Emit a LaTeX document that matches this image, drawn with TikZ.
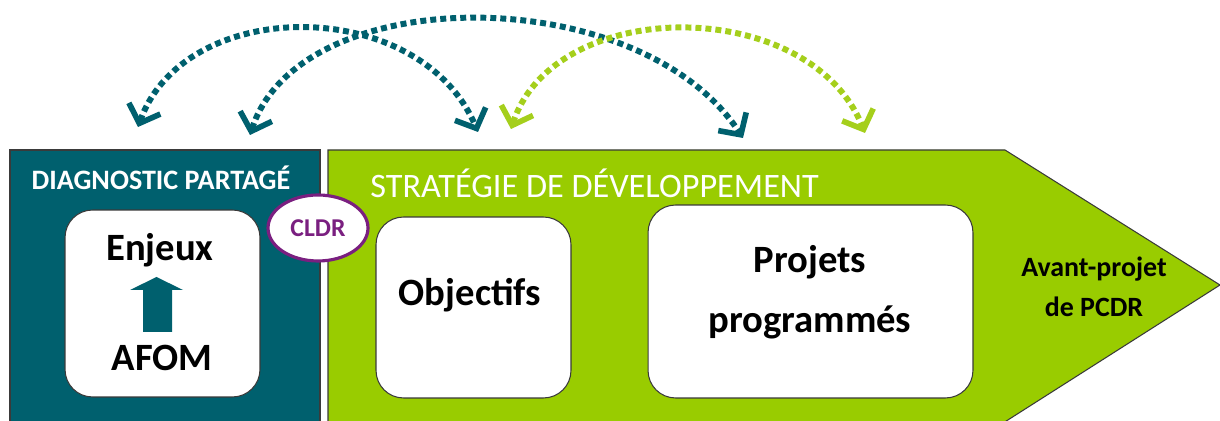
\documentclass[tikz,border=0pt]{standalone}
\usepackage{fontspec}
\setmainfont{Carlito}
\usetikzlibrary{arrows.meta,shapes.geometric}
\definecolor{dteal}{HTML}{00606E}
\definecolor{lgreen}{HTML}{99CC00}
\definecolor{agreen}{HTML}{A5CF1C}
\definecolor{cpurple}{HTML}{7A1F80}
\definecolor{edge}{HTML}{3A3A3A}
\begin{document}
\begin{tikzpicture}[x=0.02cm,y=-0.02cm,
  panel/.style={draw=edge,line width=0.6pt},
  wbox/.style={draw=edge,fill=white,line width=0.6pt,rounded corners=0.55cm,inner sep=0pt},
  bigtext/.style={font=\fontsize{22}{34}\selectfont\bfseries,align=center,inner sep=0pt},
  dotarrow/.style={line width=3.4pt,dash pattern=on 3.4pt off 2.3pt,
    {Straight Barb[length=9pt,width=19pt,line width=3.2pt]}-{Straight Barb[length=9pt,width=19pt,line width=3.2pt]}},
]
\useasboundingbox (0,0) rectangle (1220,421);
\begin{scope}
\clip (0,0) rectangle (1220,421);
\draw[panel,fill=dteal] (10,150) rectangle (320,440);
\draw[panel,fill=lgreen] (328,440) -- (328,150) -- (1005,150) -- (1220,285) -- (1000,425) -- (1000,440) -- cycle;
\end{scope}

% titles
\node[text=white,font=\fontsize{16}{18}\selectfont\bfseries,inner sep=0pt] (tdiag) at (161,178) {DIAGNOSTIC PARTAGÉ};
\node[text=white,font=\fontsize{19.5}{22}\selectfont,anchor=west,inner sep=0pt] (tstrat) at (370,183) {STRATÉGIE DE DÉVELOPPEMENT};

% white boxes
\node[wbox,minimum width=3.9cm,minimum height=3.74cm] (benj) at (162.5,303.5) {};
\node[wbox,minimum width=3.9cm,minimum height=3.62cm] (bobj) at (473.5,307.5) {};
\node[wbox,minimum width=6.5cm,minimum height=3.86cm] (bproj) at (810.5,301.5) {};

% texts
\node[bigtext] (enjeux) at (160,250) {Enjeux};
\node[bigtext] (afom) at (162,358) {AFOM};
\node[bigtext] (obj) at (470,295) {Objectifs};
\node[bigtext] (proj) at (810,292) {Projets\\programmés};
\node[font=\fontsize{15.9}{22.7}\selectfont\bfseries,align=center,inner sep=0pt] (avant) at (1094,287) {Avant-projet\\de PCDR};

% block arrow AFOM -> Enjeux
\fill[dteal] (143,332) -- (143,290) -- (130,290) -- (156.5,277) -- (183,290) -- (172,290) -- (172,332) -- cycle;

% CLDR
\node[ellipse,draw=cpurple,fill=white,line width=1.8pt,minimum width=2.0cm,minimum height=1.32cm,inner sep=0pt,
  text=cpurple,font=\fontsize{14.6}{16}\selectfont\bfseries] (cldr) at (318,228) {CLDR};

% dotted arcs
\coordinate (a1) at (138,127);
\coordinate (a2) at (478,132);
\coordinate (b1) at (250,135);
\coordinate (b2) at (743,138);
\coordinate (c1) at (511,129);
\coordinate (c2) at (865,133);
\draw[dotarrow,dteal] (a1) .. controls (185,-5) and (420,-5) .. (a2);
\draw[dotarrow,dteal] (b1) .. controls (300,-20) and (640,-20) .. (b2);
\draw[dotarrow,agreen] (c1) .. controls (555,-5) and (810,-5) .. (c2);
\end{tikzpicture}
\end{document}
